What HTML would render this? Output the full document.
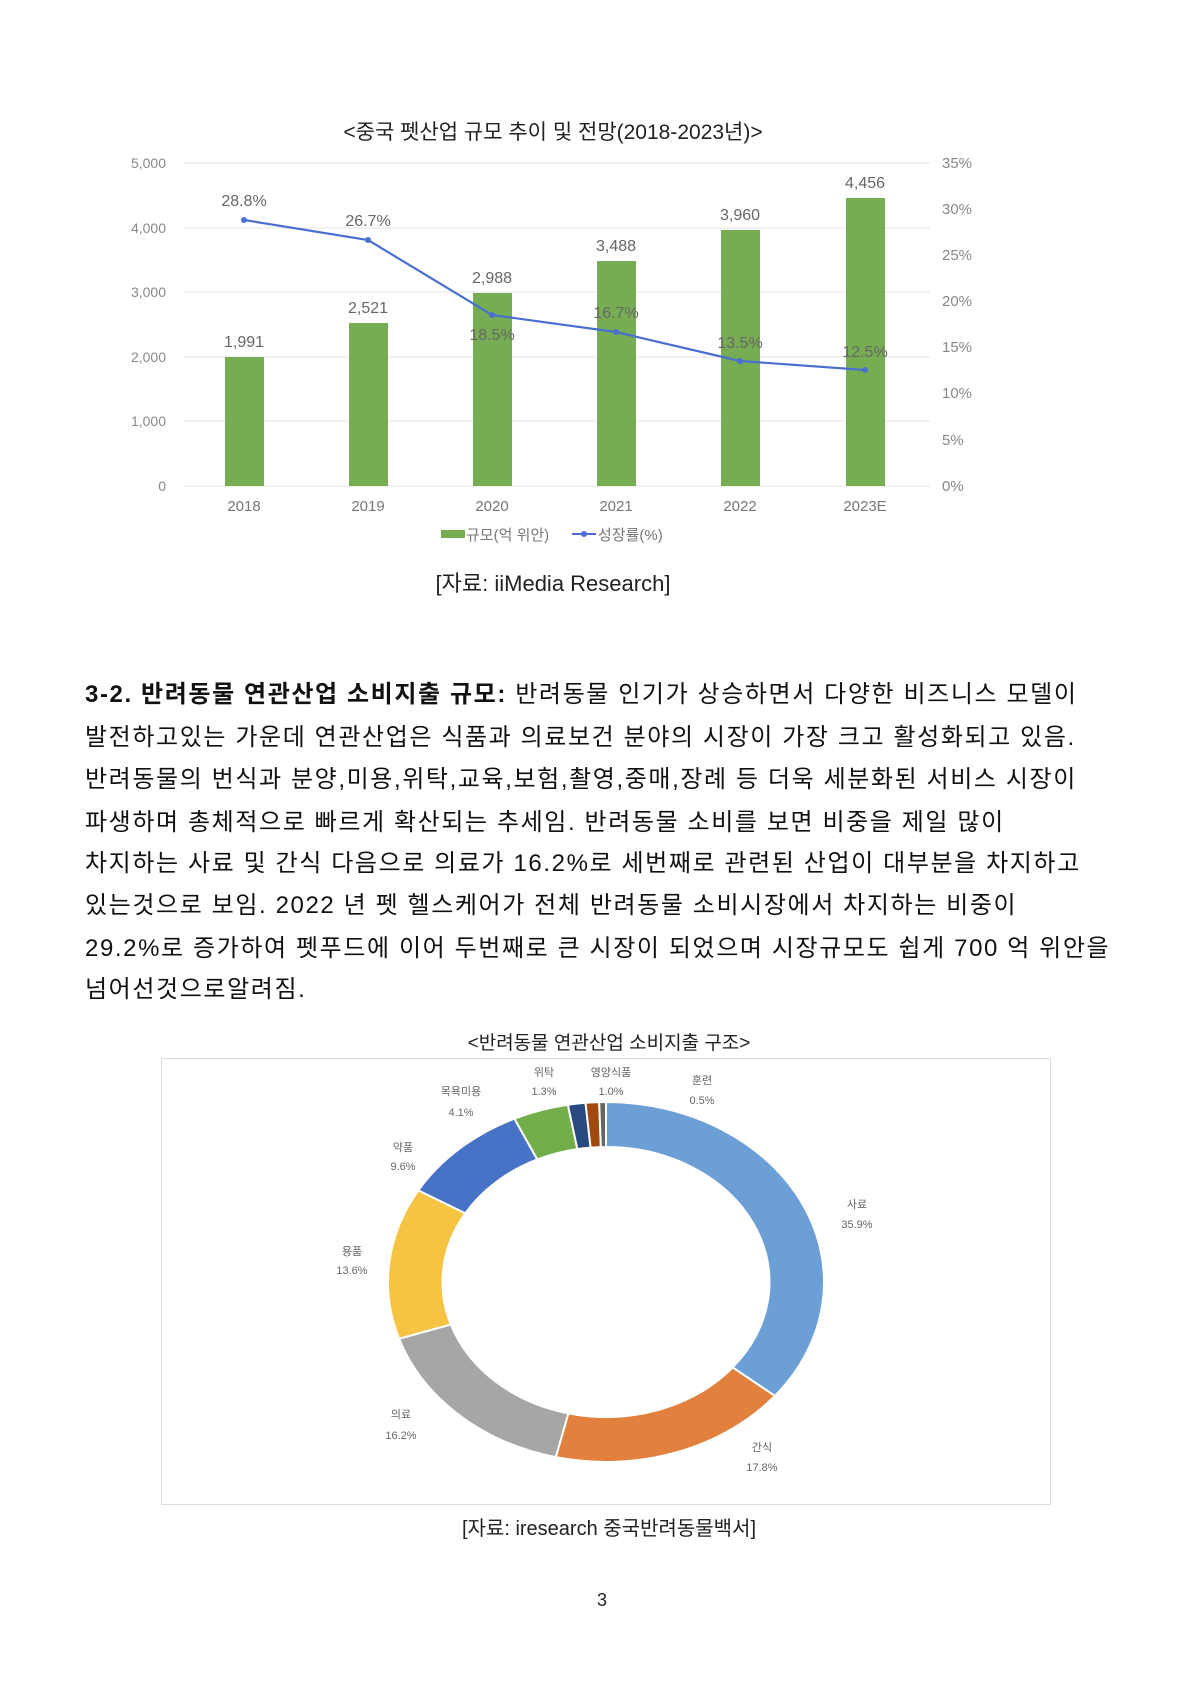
<!DOCTYPE html>
<html><head><meta charset="utf-8"><style>
body{margin:0;background:#fff;}
#p{position:relative;width:1200px;height:1697px;overflow:hidden;font-family:"Liberation Sans","Noto Sans CJK KR",sans-serif;color:#111;}
.a{position:absolute;white-space:nowrap;}
.t{position:absolute;left:85px;font-size:24px;letter-spacing:1.6px;white-space:nowrap;line-height:30px;}
</style></head><body><div id="p">
<svg class="a" style="left:0;top:0" width="1200" height="620" font-family="Liberation Sans, Noto Sans CJK KR, sans-serif">
<text x="553" y="139" text-anchor="middle" font-size="21" fill="#222">&lt;중국 펫산업 규모 추이 및 전망(2018-2023년)&gt;</text>
<g stroke="#e4e4e4" stroke-width="1">
<line x1="183" x2="930" y1="163" y2="163"/><line x1="183" x2="930" y1="228" y2="228"/><line x1="183" x2="930" y1="292" y2="292"/><line x1="183" x2="930" y1="357" y2="357"/><line x1="183" x2="930" y1="421" y2="421"/><line x1="183" x2="930" y1="486" y2="486"/></g>
<g font-size="14" fill="#888" text-anchor="end">
<text x="166" y="168">5,000</text><text x="166" y="233">4,000</text><text x="166" y="297">3,000</text><text x="166" y="362">2,000</text><text x="166" y="426">1,000</text><text x="166" y="491">0</text></g>
<g font-size="15" fill="#888">
<text x="942" y="168">35%</text><text x="942" y="214">30%</text><text x="942" y="260">25%</text><text x="942" y="306">20%</text><text x="942" y="352">15%</text><text x="942" y="398">10%</text><text x="942" y="445">5%</text><text x="942" y="491">0%</text></g>
<g fill="#77ad52">
<rect x="225" y="357" width="39" height="129"/><rect x="349" y="323" width="39" height="163"/><rect x="473" y="293" width="39" height="193"/><rect x="597" y="261" width="39" height="225"/><rect x="721" y="230" width="39" height="256"/><rect x="846" y="198" width="39" height="288"/></g>
<g font-size="16" fill="#666" text-anchor="middle">
<text x="244" y="347">1,991</text><text x="368" y="313">2,521</text><text x="492" y="283">2,988</text><text x="616" y="251">3,488</text><text x="740" y="220">3,960</text><text x="865" y="188">4,456</text>
<text x="244" y="206">28.8%</text><text x="368" y="226">26.7%</text><text x="492" y="340">18.5%</text><text x="616" y="318">16.7%</text><text x="740" y="348">13.5%</text><text x="865" y="357">12.5%</text>
</g>
<polyline fill="none" stroke="#4a6fd0" stroke-width="2.2" points="244,220 368,240 492,315 616,332 740,361 865,370"/>
<g fill="#4a6fd0"><circle cx="244" cy="220" r="3"/><circle cx="368" cy="240" r="3"/><circle cx="492" cy="315" r="3"/><circle cx="616" cy="332" r="3"/><circle cx="740" cy="361" r="3"/><circle cx="865" cy="370" r="3"/></g>
<g font-size="15" fill="#777" text-anchor="middle">
<text x="244" y="511">2018</text><text x="368" y="511">2019</text><text x="492" y="511">2020</text><text x="616" y="511">2021</text><text x="740" y="511">2022</text><text x="865" y="511">2023E</text></g>
<rect x="441" y="530" width="24" height="8" fill="#77ad52"/>
<text x="466" y="540" font-size="15" fill="#777">규모(억 위안)</text>
<line x1="572" x2="596" y1="534" y2="534" stroke="#4a6fd0" stroke-width="2"/><circle cx="584" cy="534" r="3" fill="#4a6fd0"/>
<text x="598" y="540" font-size="15" fill="#777">성장률(%)</text>
<text x="553" y="591" text-anchor="middle" font-size="22" fill="#222">[자료:  iiMedia Research]</text>
</svg>
<div class="t" style="top:680px"><b>3-2. 반려동물 연관산업 소비지출 규모:</b> 반려동물 인기가 상승하면서 다양한 비즈니스 모델이</div>
<div class="t" style="top:723px">발전하고있는 가운데 연관산업은 식품과 의료보건 분야의 시장이 가장 크고 활성화되고 있음.</div>
<div class="t" style="top:765px">반려동물의 번식과 분양,미용,위탁,교육,보험,촬영,중매,장례 등 더욱 세분화된 서비스 시장이</div>
<div class="t" style="top:808px">파생하며 총체적으로 빠르게 확산되는 추세임. 반려동물 소비를 보면 비중을 제일 많이</div>
<div class="t" style="top:849px">차지하는 사료 및 간식 다음으로 의료가 16.2%로 세번째로 관련된 산업이 대부분을 차지하고</div>
<div class="t" style="top:891px">있는것으로 보임. 2022 년 펫 헬스케어가 전체 반려동물 소비시장에서 차지하는 비중이</div>
<div class="t" style="top:934px">29.2%로 증가하여 펫푸드에 이어 두번째로 큰 시장이 되었으며 시장규모도 쉽게 700 억 위안을</div>
<div class="t" style="top:975px">넘어선것으로알려짐.</div>
<svg class="a" style="left:0;top:1020px" width="1200" height="600" font-family="Liberation Sans, Noto Sans CJK KR, sans-serif">
<text x="609" y="29" text-anchor="middle" font-size="19" fill="#222">&lt;반려동물 연관산업 소비지출 구조&gt;</text>
<rect x="161.5" y="38.5" width="889" height="446" fill="none" stroke="#ddd"/>
<g id="d" transform="translate(606,262) scale(218,180)"></g>
<g font-size="11" fill="#666" text-anchor="middle">
<text x="857" y="188">사료</text><text x="857" y="208">35.9%</text>
<text x="762" y="431">간식</text><text x="762" y="451">17.8%</text>
<text x="401" y="398">의료</text><text x="401" y="419">16.2%</text>
<text x="352" y="235">용품</text><text x="352" y="254">13.6%</text>
<text x="403" y="131">약품</text><text x="403" y="150">9.6%</text>
<text x="461" y="75">목욕미용</text><text x="461" y="96">4.1%</text>
<text x="544" y="56">위탁</text><text x="544" y="75">1.3%</text>
<text x="611" y="56">영양식품</text><text x="611" y="75">1.0%</text>
<text x="702" y="64">훈련</text><text x="702" y="84">0.5%</text>
</g>
<text x="609" y="515" text-anchor="middle" font-size="20" fill="#222">[자료: iresearch 중국반려동물백서]</text>
<text x="602" y="586" text-anchor="middle" font-size="18" fill="#222">3</text>
</svg>
<script>
var d=[[35.9,"#6b9fd6"],[17.8,"#e2813d"],[16.2,"#a6a6a6"],[13.6,"#f6c343"],[9.6,"#4673c6"],[4.1,"#72ae4a"],[1.3,"#284a7e"],[1.0,"#a04a12"],[0.5,"#666"]];
var g=document.getElementById("d"),a=0,ri=0.75,s="";
d.forEach(function(e){var b=a+e[0]/100*2*Math.PI;function p(r,t){return (r*Math.sin(t)).toFixed(4)+","+(-r*Math.cos(t)).toFixed(4);}
var l=(b-a)>Math.PI?1:0;
s+='<path d="M'+p(1,a)+'A1,1 0 '+l+' 1 '+p(1,b)+'L'+p(ri,b)+'A'+ri+','+ri+' 0 '+l+' 0 '+p(ri,a)+'Z" fill="'+e[1]+'" stroke="#fff" stroke-width="2" vector-effect="non-scaling-stroke"/>';a=b;});
g.innerHTML=s;
</script>
</div></body></html>
